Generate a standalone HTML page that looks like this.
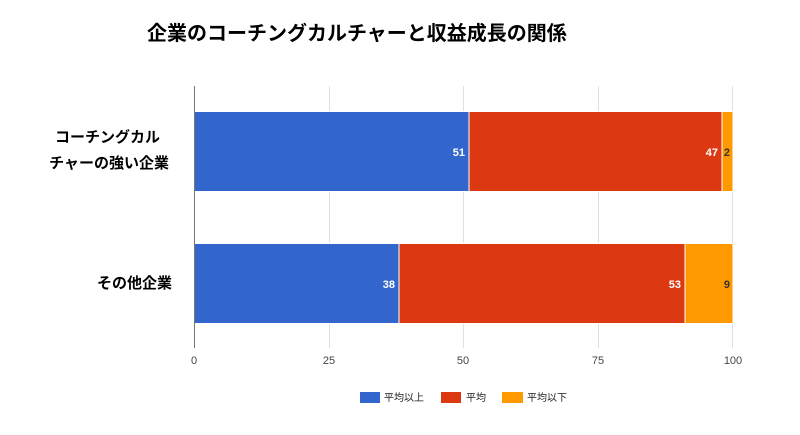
<!DOCTYPE html>
<html><head><meta charset="utf-8"><style>
html,body{margin:0;padding:0;background:#fff;}
svg text{font-family:"Liberation Sans","Noto Sans CJK JP",sans-serif;}
</style></head><body>
<svg width="800" height="430" xmlns="http://www.w3.org/2000/svg">
<rect width="800" height="430" fill="#fff"/>
<text x="147" y="40" font-size="20" font-weight="bold" fill="#000">企業のコーチングカルチャーと収益成長の関係</text>
<g stroke="#e0e0e0" stroke-width="1">
<line x1="329.5" y1="86" x2="329.5" y2="348"/>
<line x1="463.5" y1="86" x2="463.5" y2="348"/>
<line x1="598.5" y1="86" x2="598.5" y2="348"/>
<line x1="732.5" y1="86" x2="732.5" y2="348"/>
</g>
<g stroke="#fff" stroke-width="1">
<rect x="194" y="111.5" width="275" height="80" fill="#3366cc"/>
<rect x="469" y="111.5" width="253" height="80" fill="#dc3912"/>
<rect x="722" y="111.5" width="11" height="80" fill="#ff9900"/>
<rect x="194" y="243.5" width="205" height="80" fill="#3366cc"/>
<rect x="399" y="243.5" width="286" height="80" fill="#dc3912"/>
<rect x="685" y="243.5" width="48" height="80" fill="#ff9900"/>
</g>
<line x1="194.5" y1="86" x2="194.5" y2="348" stroke="#777" stroke-width="1"/>
<g font-size="11" font-weight="bold" text-anchor="end">
<text x="465" y="156" fill="#fff">51</text>
<text x="718" y="156" fill="#fff">47</text>
<text x="730" y="156" fill="#333">2</text>
<text x="395" y="288" fill="#fff">38</text>
<text x="681" y="288" fill="#fff">53</text>
<text x="730" y="288" fill="#333">9</text>
</g>
<g font-size="11" fill="#444" text-anchor="middle">
<text x="194" y="364">0</text>
<text x="329" y="364">25</text>
<text x="463" y="364">50</text>
<text x="598" y="364">75</text>
<text x="733" y="364">100</text>
</g>
<g font-size="15" fill="#000" font-weight="bold" text-anchor="end">
<text x="160" y="142">コーチングカル</text>
<text x="169" y="168">チャーの強い企業</text>
<text x="172" y="288">その他企業</text>
</g>
<rect x="360" y="392" width="20" height="11" fill="#3366cc"/>
<rect x="441" y="392" width="20" height="11" fill="#dc3912"/>
<rect x="502" y="392" width="21" height="11" fill="#ff9900"/>
<g font-size="10" fill="#222">
<text x="384" y="401">平均以上</text>
<text x="466" y="401">平均</text>
<text x="527" y="401">平均以下</text>
</g>
</svg>
</body></html>
